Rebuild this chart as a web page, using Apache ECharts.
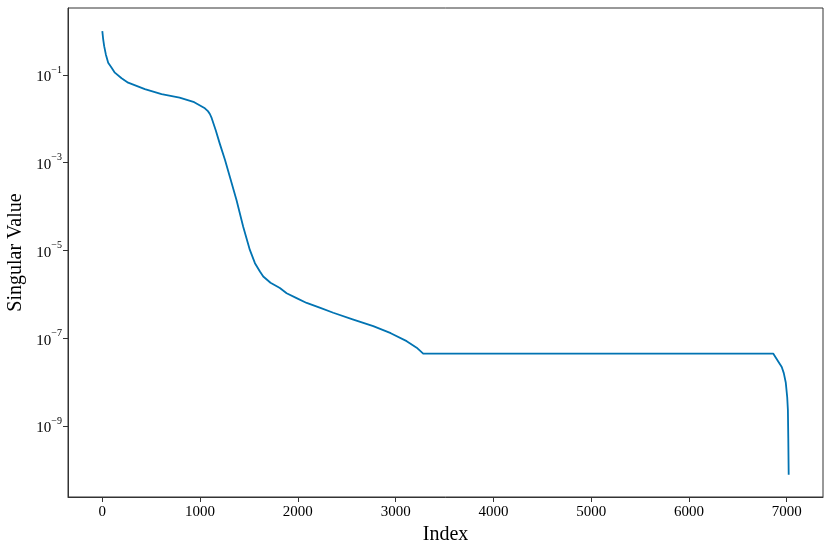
<!DOCTYPE html>
<html>
<head>
<meta charset="utf-8">
<script src="https://cdn.jsdelivr.net/npm/echarts@6/dist/echarts.min.js"></script>
<style>html,body{margin:0;padding:0;background:#fff}#c{width:831px;height:551px}</style>
</head>
<body>
<div id="c"></div>
<script>
// Index positions and singular values
const indices = [0, 9, 19, 36, 60, 95, 128, 197, 264, 435, 606, 790, 940, 1049, 1080, 1100, 1118, 1160, 1202, 1255, 1305, 1373, 1441, 1509, 1561, 1612, 1646, 1720, 1816, 1885, 1987, 2090, 2230, 2362, 2560, 2771, 2950, 3113, 3215, 3282, 4000, 5000, 6000, 6863, 6931, 6949, 6970, 6990, 7005, 7012, 7016, 7020];
const singularValues = [1.0, 0.645, 0.454, 0.294, 0.19, 0.146, 0.113, 0.084, 0.0668, 0.0474, 0.0366, 0.0306, 0.024, 0.0174, 0.0150, 0.0129, 0.0105, 0.0055, 2.69e-3, 1.15e-3, 4.71e-4, 1.39e-4, 3.46e-5, 1.03e-5, 5.13e-6, 3.31e-6, 2.55e-6, 1.84e-6, 1.39e-6, 1.06e-6, 8.2e-7, 6.36e-7, 4.9e-7, 3.8e-7, 2.7e-7, 1.88e-7, 1.3e-7, 8.57e-8, 6.08e-8, 4.45e-8, 4.45e-8, 4.44e-8, 4.44e-8, 4.43e-8, 2.54e-8, 2.2e-8, 1.6e-8, 9.8e-9, 4.5e-9, 2.3e-9, 5.1e-10, 7.7e-11];
const xTicks = [0, 1000, 2000, 3000, 4000, 5000, 6000, 7000];
const yTicks = [1e-9, 1e-7, 1e-5, 1e-3, 1e-1];

const chart = echarts.init(document.getElementById('c'));
const font = 'Liberation Serif';
chart.setOption({
  animation: false,
  grid: { left: 68, top: 8, right: 8, bottom: 54, show: true, borderColor: '#333', borderWidth: 1, containLabel: false, outerBoundsMode: 'none' },
  xAxis: {
    type: 'value', min: -351, max: 7371,
    name: 'Index', nameLocation: 'middle', nameGap: 20,
    nameTextStyle: { fontFamily: font, fontSize: 20, color: '#000' },
    axisLine: { show: true, onZero: false, lineStyle: { color: '#333', width: 1 } },
    axisTick: { show: true, length: 5, customValues: xTicks, lineStyle: { color: '#333' } },
    axisLabel: { customValues: xTicks, formatter: v => String(v), fontFamily: font, fontSize: 15, color: '#000', margin: 8 },
    splitLine: { show: false }
  },
  yAxis: {
    type: 'log', logBase: 10, min: Math.pow(10, -10.62), max: Math.pow(10, 0.527),
    name: 'Singular Value', nameLocation: 'middle', nameGap: 35,
    nameTextStyle: { fontFamily: font, fontSize: 20, color: '#000' },
    axisLine: { show: true, onZero: false, lineStyle: { color: '#333', width: 1 } },
    axisTick: { show: true, length: 5, customValues: yTicks, lineStyle: { color: '#333' } },
    axisLabel: {
      customValues: yTicks, margin: 6,
      formatter: function (v) {
        const e = Math.round(Math.log10(v));
        return '{b|10}{s|' + (e < 0 ? '\u2212' : '') + Math.abs(e) + '}';
      },
      rich: {
        b: { fontFamily: font, fontSize: 15, color: '#000', lineHeight: 20, verticalAlign: 'bottom' },
        s: { fontFamily: font, fontSize: 10, color: '#000', lineHeight: 10, verticalAlign: 'top' }
      }
    },
    splitLine: { show: false }
  },
  series: [{
    type: 'line', showSymbol: false, smooth: false,
    data: indices.map((x, i) => [x, singularValues[i]]),
    lineStyle: { color: '#0173B2', width: 1.8, join: 'round' }
  }]
});
</script>
</body>
</html>
